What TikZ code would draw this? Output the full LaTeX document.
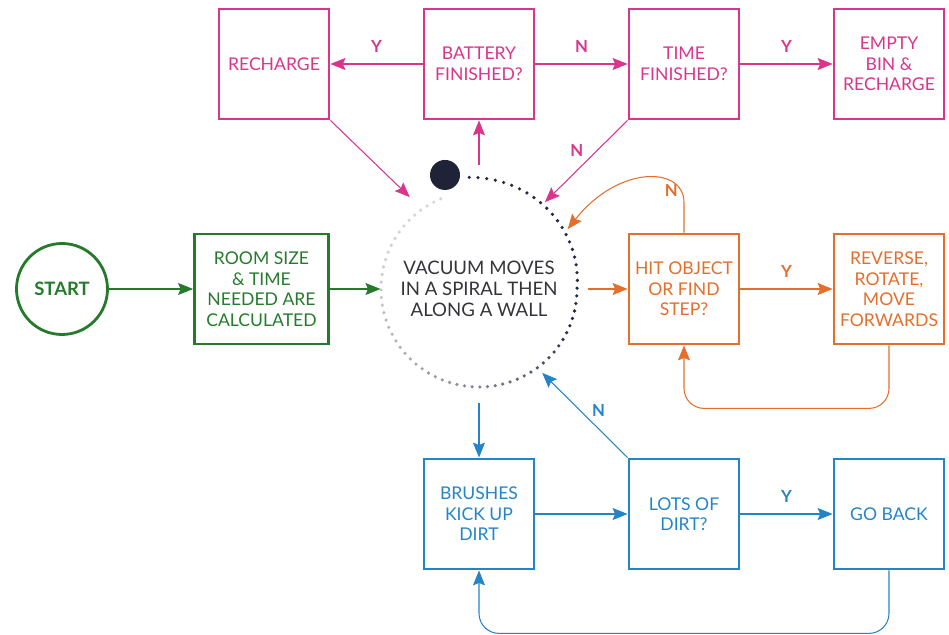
\documentclass[tikz,border=0pt]{standalone}
\usepackage{fontspec}
\setmainfont{Lato}
\usetikzlibrary{arrows.meta, positioning}

\definecolor{leafgreen}{RGB}{38,122,44}
\definecolor{rosepink}{RGB}{218,52,140}
\definecolor{rustorange}{RGB}{228,110,44}
\definecolor{skyblue}{RGB}{36,132,200}
\definecolor{spiralnavy}{RGB}{38,40,66}
\definecolor{spiralfog}{RGB}{214,214,222}
\definecolor{hubtext}{RGB}{52,52,58}

\begin{document}
\begin{tikzpicture}[> = {Stealth[length=3mm, width=2.4mm, inset=0.5mm]}, % arrow head style
                x = 0.2mm, y = -0.2mm, % one unit per pixel, y downwards
                node distance = 41mm, % centre to centre
                font = \fontsize{10}{11.7}\selectfont,
                semithick % line style
            ]

            \tikzstyle{stepbox}=[draw, line width = 1.6pt, minimum width = 22mm,
            minimum height = 22mm, align = center, inner sep = 1mm]
            \tikzstyle{pinkbox}=[stepbox, draw = rosepink, text = rosepink]
            \tikzstyle{orangebox}=[stepbox, draw = rustorange, text = rustorange]
            \tikzstyle{bluebox}=[stepbox, draw = skyblue, text = skyblue]
            \tikzstyle{greenbox}=[stepbox, draw = leafgreen, text = leafgreen]
            \tikzstyle{yn}=[font = \bfseries\fontsize{9.5}{11}\selectfont]

            \useasboundingbox (0,0) rectangle (949,635);

            % the hub and the three rings of boxes around it
            \node (hub) [circle, minimum size = 39.2mm, inner sep = 0pt, align = center,
            text = hubtext, font = \fontsize{10.6}{11.9}\selectfont] at (479,289)
            {VACUUM MOVES\\IN A SPIRAL THEN\\ALONG A WALL};

            \node[pinkbox] (battery) [above of=hub, node distance=45mm] {BATTERY\\FINISHED?};
            \node[pinkbox] (recharge) [left of=battery] {RECHARGE};
            \node[pinkbox] (timeup) [right of=battery] {TIME\\FINISHED?};
            \node[pinkbox] (emptybin) [right of=timeup] {EMPTY\\BIN \&\\RECHARGE};

            \node[orangebox] (hit) [right of=hub] {HIT OBJECT\\OR FIND\\STEP?};
            \node[orangebox] (reverse) [right of=hit] {REVERSE,\\ROTATE,\\MOVE\\FORWARDS};

            \node[bluebox] (brushes) [below of=hub, node distance=45mm] {BRUSHES\\KICK UP\\DIRT};
            \node[bluebox] (lots) [right of=brushes] {LOTS OF\\DIRT?};
            \node[bluebox] (goback) [right of=lots] {GO BACK};

            \node[greenbox, minimum width = 26.8mm] (room) [left of=hub, node distance=43.5mm]
            {ROOM SIZE\\\& TIME\\NEEDED ARE\\CALCULATED};
            \node (start) [left of=room, node distance=39.9mm, circle, draw = leafgreen,
            line width = 1.6pt, minimum size = 18.2mm, text = leafgreen,
            font = \bfseries\fontsize{10.5}{12}\selectfont] {START};

            % spiral path of the vacuum
            \foreach \i in {0,...,76} {
                \pgfmathsetmacro\ang{95-4.5*\i}
                \pgfmathsetmacro\rr{(98+14*max(\ang,0)/95)*0.2}
                \pgfmathsetmacro\fade{\i<27 ? 100 : 100*(1-(\i-26)/50)^2}
                \fill[spiralnavy!\fade!spiralfog] ([shift={(\ang:\rr mm)}]hub.center) circle (0.36mm);
            }
            \fill[spiralnavy!85!black] ([shift={(106.6:23.8mm)}]hub.center) circle (3mm);

            \coordinate (hubN) at ([yshift=24.8mm]hub.center);
            \coordinate (hubS) at ([yshift=-22.8mm]hub.center);
            \coordinate (tipRech) at ([shift={(127:23mm)}]hub.center);
            \coordinate (tipTime) at ([shift={(52.8:21.8mm)}]hub.center);
            \coordinate (tipHit) at ([shift={(34:21.4mm)}]hub.center);
            \coordinate (tipLots) at ([shift={(-53:21mm)}]hub.center);

            \path[->, leafgreen] (start) edge (room) (room) edge (hub);

            \path[->, rosepink] (battery) edge node[yn, above=1mm] {Y} (recharge);
            \path[->, rosepink] (battery) edge node[yn, above=1mm] {N} (timeup);
            \path[->, rosepink] (timeup) edge node[yn, above=1mm] {Y} (emptybin);
            \path[->, rosepink] (recharge.south east) edge (tipRech);
            \path[->, rosepink] (hubN) edge (battery);
            \path[->, rosepink] (timeup.south west) edge node[yn, pos=0.37, left=1.5mm] {N} (tipTime);

            \draw[->, rustorange, shorten <= 2mm] (hub) -- (hit);
            \draw[->, rustorange] (hit) -- node[yn, above=1mm] {Y} (reverse);
            \draw[->, rustorange] (hit.north) -- node[yn, pos=1, anchor=south east] {N} ++(0,-30)
            .. controls +(0,-37) and +(50,-64) .. (tipHit);
            \draw[->, rustorange, rounded corners=4mm] (reverse.south) -- ++(0,63) -| (hit.south);

            \draw[->, skyblue] (hubS) -- (brushes);
            \draw[->, skyblue] (brushes) -- (lots);
            \draw[->, skyblue] (lots) -- node[yn, above=1mm] {Y} (goback);
            \draw[->, skyblue] (lots.north west) -- node[yn, pos=0.56, right=1.2mm] {N} (tipLots);
            \draw[->, skyblue, rounded corners=4mm] (goback.south) -- ++(0,63) -| (brushes.south);
\end{tikzpicture}
\end{document}
